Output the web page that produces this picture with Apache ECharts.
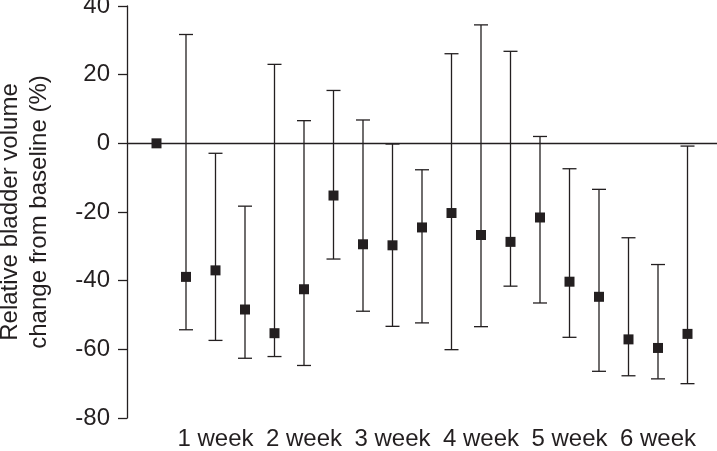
<!DOCTYPE html>
<html lang="en">
<head>
  <meta charset="UTF-8">
  <title>bladder_volume</title>
  <script src="https://cdn.jsdelivr.net/npm/echarts@6/dist/echarts.min.js"></script>
  <style>
    *{
      margin:0;
      padding:0;
    }
    body{
      background:#fff;
    }
    .container{
      width: 717px;
      height: 451px;
    }
  </style>
</head>
<body>
  <div class="container"></div>

  <script type="text/javascript">
    // x labels, one per time point (only every third one carries text)
    var xLabels = ['', '', '1 week', '', '', '2 week', '', '', '3 week', '', '', '4 week', '', '', '5 week', '', '', '6 week', '']
    var meanData = [0, -38.9, -37.0, -48.4, -55.3, -42.5, -15.2, -29.4, -29.7, -24.5, -20.3, -26.7, -28.7, -21.6, -40.3, -44.7, -57.1, -59.6, -55.5]
    var lowData  = [null, -54.3, -57.4, -62.6, -62.1, -64.7, -33.7, -48.9, -53.3, -52.3, -60.1, -53.4, -41.6, -46.5, -56.5, -66.4, -67.7, -68.6, -70.0]
    var highData = [null, 31.7, -2.9, -18.3, 23.0, 6.6, 15.4, 6.8, -0.2, -7.7, 26.1, 34.5, 26.8, 2.0, -7.4, -13.4, -27.5, -35.3, -0.8]
    var yTicks = [-80, -60, -40, -20, 0, 20, 40]

    var ink = '#231f20'
    var fontFamily = '"Liberation Sans", Arial, sans-serif'

    var errData = []
    var pointData = []
    meanData.forEach(function(v, i){
      pointData.push([i, v])
      if (lowData[i] !== null) errData.push([i, lowData[i], highData[i]])
    })

    const mCharts = echarts.init(document.querySelector('.container'))

    var option = {
      animation: false,
      grid: {
        left: 127,
        right: 0,
        top: 6,
        bottom: 33,
        containLabel: false,
        outerBoundsMode: 'none'
      },
      xAxis: {
        type: 'value',
        min: -1,
        max: 19,
        interval: 1,
        axisLine: { show: false },
        axisTick: { show: false },
        splitLine: { show: false },
        axisLabel: {
          margin: 9,
          color: ink,
          fontSize: 24,
          fontFamily: fontFamily,
          showMinLabel: true,
          showMaxLabel: true,
          hideOverlap: false,
          formatter: function(v){ return xLabels[v] || '' }
        }
      },
      yAxis: {
        type: 'value',
        min: yTicks[0],
        max: yTicks[yTicks.length - 1],
        interval: 20,
        name: 'Relative bladder volume\nchange from baseline (%)',
        nameLocation: 'middle',
        nameGap: 73,
        nameTextStyle: {
          color: ink,
          fontSize: 24,
          lineHeight: 29,
          fontFamily: fontFamily
        },
        axisLine: { show: true, onZero: false, lineStyle: { color: ink, width: 1.3 } },
        axisTick: { show: true, inside: false, length: 9, lineStyle: { color: ink, width: 1.3 } },
        splitLine: { show: false },
        axisLabel: {
          margin: 17,
          color: ink,
          fontSize: 24,
          fontFamily: fontFamily
        }
      },
      series: [
        {
          type: 'custom',
          data: errData,
          encode: { x: 0, y: [1, 2] },
          renderItem: function(params, api){
            var x = api.value(0)
            var lo = api.coord([x, api.value(1)])
            var hi = api.coord([x, api.value(2)])
            var half = 7
            var style = { stroke: ink, lineWidth: 1.3, fill: null }
            return {
              type: 'group',
              children: [
                { type: 'line', shape: { x1: lo[0], y1: lo[1], x2: hi[0], y2: hi[1] }, style: style },
                { type: 'line', shape: { x1: lo[0] - half, y1: lo[1], x2: lo[0] + half, y2: lo[1] }, style: style },
                { type: 'line', shape: { x1: hi[0] - half, y1: hi[1], x2: hi[0] + half, y2: hi[1] }, style: style }
              ]
            }
          },
          markLine: {
            silent: true,
            symbol: 'none',
            label: { show: false },
            lineStyle: { color: ink, width: 1.3, type: 'solid' },
            data: [{ yAxis: 0 }]
          },
          z: 2
        },
        {
          type: 'scatter',
          data: pointData,
          symbol: 'rect',
          symbolSize: 10,
          itemStyle: { color: ink, opacity: 1 },
          z: 3
        }
      ]
    }
    mCharts.setOption(option)
  </script>
</body>
</html>
